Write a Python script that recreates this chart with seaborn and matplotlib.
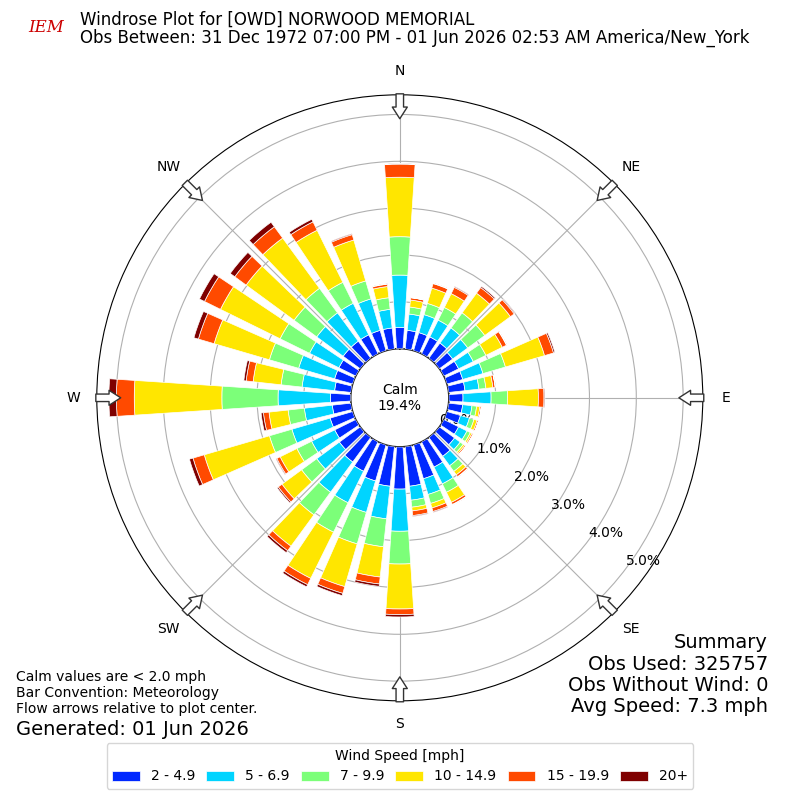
import numpy as np
import seaborn as sns
import matplotlib.pyplot as plt

sns.set_theme(style="white")
plt.rcParams['font.family'] = ['DejaVu Sans']
plt.rcParams['text.color'] = 'black'
plt.rcParams['xtick.color'] = 'black'
plt.rcParams['ytick.color'] = 'black'

# direction bins (deg, meteorological) and percent frequency per speed bin
directions = np.arange(0, 360, 10)
bins = ['2 - 4.9', '5 - 6.9', '7 - 9.9', '10 - 14.9', '15 - 19.9', '20+']
blue = [0.45, 0.4, 0.4, 0.4, 0.4, 0.35, 0.35, 0.35, 0.35, 0.3, 0.3, 0.3, 0.35, 0.4, 0.5, 0.6, 0.75, 0.85,
        0.9, 0.85, 0.8, 0.7, 0.65, 0.55, 0.5, 0.5, 0.4, 0.43, 0.35, 0.4, 0.4, 0.45, 0.45, 0.45, 0.45, 0.45]
cyan = [1.12, 0.35, 0.4, 0.4, 0.4, 0.4, 0.35, 0.45, 0.3, 0.6, 0.2, 0.2, 0.2, 0.15, 0.25, 0.4, 0.35, 0.3,
        0.9, 0.7, 0.7, 0.75, 0.8, 0.6, 0.55, 0.85, 0.6, 1.12, 0.7, 0.8, 0.7, 0.7, 0.75, 0.75, 0.7, 0.4]
green = [0.82, 0.15, 0.25, 0.3, 0.4, 0.45, 0.3, 0.5, 0.15, 0.35, 0.1, 0.1, 0.08, 0.08, 0.15, 0.2, 0.2, 0.15,
         0.7, 0.6, 0.7, 0.7, 0.6, 0.4, 0.35, 0.5, 0.35, 1.2, 0.45, 0.65, 0.7, 0.6, 0.65, 0.5, 0.4, 0.25]
yellow = [1.27, 0.15, 0.34, 0.33, 0.52, 0.68, 0.39, 0.87, 0.15, 0.66, 0.07, 0.07, 0.04, 0.04, 0.09, 0.24, 0.10, 0.08,
          0.96, 0.65, 0.95, 1.10, 0.83, 0.52, 0.40, 1.45, 0.41, 1.87, 0.60, 1.23, 1.42, 1.27, 1.33, 1.24, 0.91, 0.24]
orange = [0.28, 0.05, 0.1, 0.15, 0.15, 0.1, 0.1, 0.2, 0.05, 0.12, 0.03, 0.03, 0.03, 0.03, 0.05, 0.05, 0.08, 0.1,
          0.12, 0.15, 0.15, 0.15, 0.12, 0.1, 0.08, 0.25, 0.12, 0.38, 0.15, 0.35, 0.38, 0.3, 0.3, 0.2, 0.12, 0.05]
dark = [0.01, 0, 0.01, 0.02, 0.03, 0.02, 0.01, 0.03, 0, 0.02, 0, 0, 0, 0, 0.01, 0.01, 0.02, 0.02,
        0.05, 0.05, 0.05, 0.05, 0.05, 0.03, 0.02, 0.08, 0.05, 0.16, 0.05, 0.1, 0.12, 0.12, 0.12, 0.06, 0.02, 0.01]
series = [blue, cyan, green, yellow, orange, dark]
palette = sns.color_palette(['#0028ff', '#00d4ff', '#7cff79', '#ffe600', '#ff4a00', '#7f0000'])

fig = plt.figure(figsize=(8, 8), dpi=100)
ax = fig.add_axes([0.121, 0.124, 0.7575, 0.7575], projection='polar')
ax.set_theta_zero_location('N')
ax.set_theta_direction(-1)
ax.set_rorigin(-1.05)
ax.set_ylim(0, 5.42)

theta = np.deg2rad(directions)
bottom = np.zeros(len(directions))
for vals, col, lab in zip(series, palette, bins):
    vals = np.array(vals)
    ax.bar(theta, vals, width=np.deg2rad(7.5), bottom=bottom, color=col, label=lab,
           edgecolor='white', linewidth=0.5, zorder=3)
    bottom += vals

ax.set_yticks([0, 1, 2, 3, 4, 5])
ax.set_yticklabels(['0.0%', '1.0%', '2.0%', '3.0%', '4.0%', '5.0%'], fontsize=10)
ax.set_rlabel_position(127)
ax.set_xticks(np.deg2rad(np.arange(0, 360, 45)))
ax.set_xticklabels(['N', 'NE', 'E', 'SE', 'S', 'SW', 'W', 'NW'], fontsize=10)
ax.tick_params(axis='x', pad=4)
ax.grid(True, color='#b0b0b0', linewidth=0.8)
ax.spines['polar'].set_color('black')
ax.spines['polar'].set_linewidth(0.8)

# compass arrows straddling the outer ring
for d in np.arange(0, 360, 45):
    t = np.deg2rad(d)
    ax.annotate('', xy=(t, 4.85), xytext=(t, 5.5), xycoords='data', annotation_clip=False,
                arrowprops=dict(arrowstyle='simple,head_length=0.7,head_width=0.9,tail_width=0.45',
                                fc='white', ec='#333333', lw=1), zorder=6)

ax.text(0, -1.05, 'Calm\n19.4%', ha='center', va='center', fontsize=10, zorder=5)

fig.text(0.1, 0.975, 'Windrose Plot for [OWD] NORWOOD MEMORIAL', fontsize=12, va='center')
fig.text(0.1, 0.953, 'Obs Between: 31 Dec 1972 07:00 PM - 01 Jun 2026 02:53 AM America/New_York',
         fontsize=12, va='center')
fig.text(0.035, 0.965, 'IEM', color='#cc0000', fontsize=12, style='italic', family='serif', va='center')

fig.text(0.96, 0.105, 'Summary\nObs Used: 325757\nObs Without Wind: 0\nAvg Speed: 7.3 mph',
         ha='right', va='bottom', fontsize=14, linespacing=1.15)
fig.text(0.02, 0.105, 'Calm values are < 2.0 mph\nBar Convention: Meteorology\nFlow arrows relative to plot center.',
         fontsize=10, va='bottom')
fig.text(0.02, 0.088, 'Generated: 01 Jun 2026', fontsize=14, va='center')

fig.legend(loc='lower center', ncol=6, title='Wind Speed [mph]', fontsize=10, title_fontsize=10,
           bbox_to_anchor=(0.5, 0.005), handlelength=2, handleheight=0.7, columnspacing=0.8,
           frameon=True)

fig.savefig('out.png', dpi=100)
